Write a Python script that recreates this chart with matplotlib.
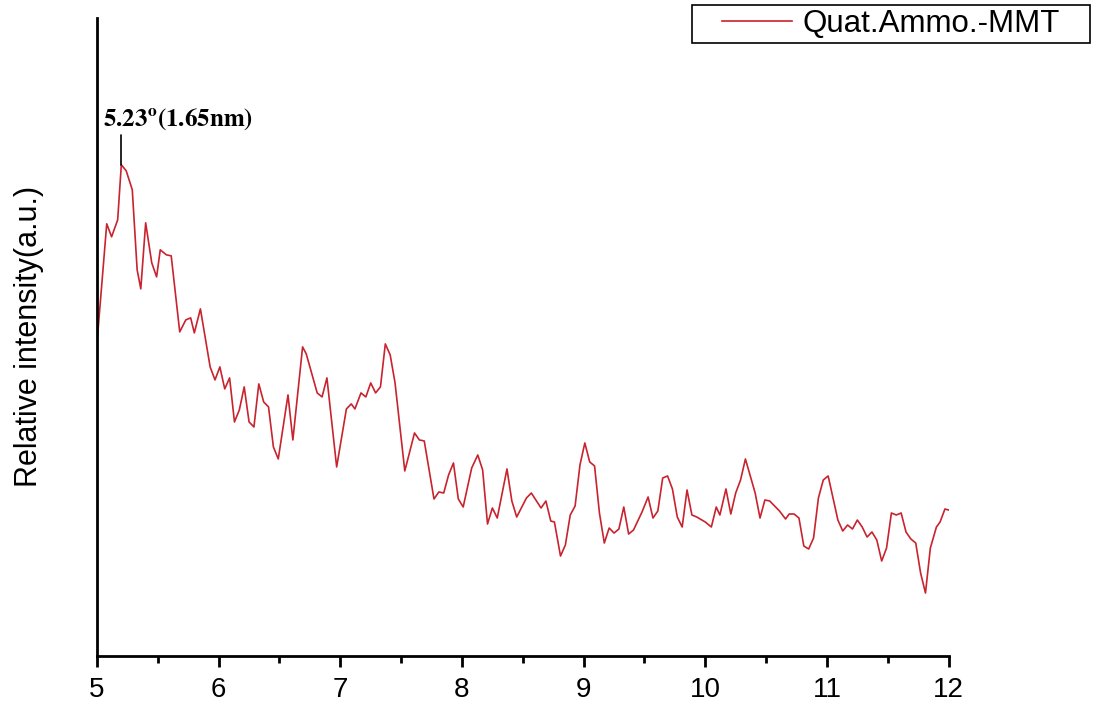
import matplotlib.pyplot as plt
from matplotlib.patches import Rectangle

# XRD pattern of quaternary-ammonium modified MMT
two_theta = [5.00, 5.08, 5.12, 5.17, 5.20, 5.24, 5.29, 5.33, 5.36, 5.40,
             5.45, 5.49, 5.52, 5.57, 5.61, 5.68, 5.73, 5.77, 5.80, 5.85,
             5.93, 5.97, 6.01, 6.05, 6.09, 6.13, 6.17, 6.21, 6.25, 6.29,
             6.33, 6.37, 6.41, 6.45, 6.49, 6.57, 6.61, 6.69, 6.72, 6.81,
             6.85, 6.89, 6.97, 7.05, 7.09, 7.12, 7.17, 7.21, 7.25, 7.29,
             7.33, 7.37, 7.41, 7.45, 7.53, 7.61, 7.65, 7.69, 7.77, 7.81,
             7.85, 7.89, 7.93, 7.97, 8.01, 8.08, 8.13, 8.17, 8.21, 8.25,
             8.29, 8.37, 8.41, 8.45, 8.53, 8.57, 8.65, 8.69, 8.73, 8.76,
             8.81, 8.85, 8.89, 8.93, 8.97, 9.01, 9.05, 9.09, 9.13, 9.17,
             9.21, 9.25, 9.29, 9.33, 9.37, 9.41, 9.48, 9.53, 9.57, 9.61,
             9.65, 9.69, 9.73, 9.77, 9.81, 9.85, 9.89, 9.93, 10.00, 10.05,
             10.09, 10.12, 10.17, 10.21, 10.25, 10.29, 10.33, 10.41, 10.45, 10.49,
             10.53, 10.57, 10.61, 10.66, 10.69, 10.73, 10.77, 10.81, 10.85, 10.89,
             10.93, 10.97, 11.01, 11.09, 11.13, 11.17, 11.21, 11.25, 11.29, 11.33,
             11.37, 11.41, 11.45, 11.49, 11.53, 11.57, 11.61, 11.65, 11.69, 11.73,
             11.77, 11.81, 11.85, 11.90, 11.93, 11.97, 12.00]
intensity = [313, 432, 419, 436, 491, 485, 466, 386, 367, 433,
             393, 379, 406, 401, 400, 324, 336, 338, 323, 347,
             289, 276, 289, 267, 278, 234, 246, 269, 234, 229,
             272, 254, 249, 209, 197, 261, 216, 309, 302, 263,
             259, 278, 189, 247, 252, 247, 263, 259, 273, 263,
             269, 312, 301, 273, 185, 223, 216, 215, 157, 164,
             163, 181, 193, 157, 149, 188, 201, 186, 132, 148,
             138, 187, 155, 139, 158, 163, 148, 155, 135, 134,
             100, 111, 141, 150, 191, 213, 194, 190, 143, 113,
             128, 123, 127, 149, 122, 126, 144, 159, 138, 145,
             178, 180, 167, 139, 129, 166, 141, 139, 134, 129,
             149, 141, 167, 142, 163, 176, 197, 163, 138, 156,
             155, 150, 145, 137, 142, 142, 138, 110, 107, 118,
             158, 176, 180, 136, 125, 131, 127, 136, 129, 119,
             124, 116, 95, 108, 143, 141, 143, 124, 117, 113,
             83, 63, 108, 129, 134, 147, 146]

x_ticks = [5, 6, 7, 8, 9, 10, 11, 12]
series_name = 'Quat.Ammo.-MMT'
peak_label = r'$\mathbf{5.23^{o}(1.65nm)}$'

plt.rcParams['mathtext.fontset'] = 'stix'
sans = ['Liberation Sans', 'DejaVu Sans']

fig = plt.figure(figsize=(10.96, 7.07), dpi=100)
ax = fig.add_axes([0.0885, 0.072, 0.777, 0.903])

line, = ax.plot(two_theta, intensity, color='#c8232e', lw=1.2, label=series_name)

ax.set_xlim(5, 12)
ax.set_ylim(0, 638)
ax.set_xticks(x_ticks)
ax.set_xticks([5.5, 6.5, 7.5, 8.5, 9.5, 10.5, 11.5], minor=True)
ax.set_yticks([])
for lab in ax.get_xticklabels():
    lab.set_family(sans)
    lab.set_fontsize(20)
ax.tick_params(axis='x', which='major', direction='out', length=8, width=2, pad=7)
ax.tick_params(axis='x', which='minor', direction='out', length=5, width=2)

for side in ['top', 'right']:
    ax.spines[side].set_visible(False)
for side in ['left', 'bottom']:
    ax.spines[side].set_linewidth(2)

ax.set_ylabel('Relative intensity(a.u.)', fontsize=22, family=sans, labelpad=38)

# peak marker
i_peak = intensity.index(max(intensity))
ax.annotate(peak_label, xy=(two_theta[i_peak], intensity[i_peak]),
            xytext=(5.05, 524), fontsize=18, ha='left', va='bottom',
            arrowprops=dict(arrowstyle='-', color='black', lw=1.2,
                            shrinkA=0, shrinkB=0,
                            connectionstyle='angle,angleA=0,angleB=90'))

# legend with a wide square box, like the original
fig.legend(handles=[line], loc='center right', bbox_to_anchor=(0.967, 0.966),
           borderaxespad=0, borderpad=0, frameon=False, handlelength=2.25,
           handletextpad=0.32, prop={'family': sans, 'size': 22.5})
fig.patches.append(Rectangle((692 / 1096, 1 - 43 / 707), 398 / 1096, 38 / 707,
                             transform=fig.transFigure, fill=False,
                             edgecolor='black', lw=1.2))

fig.savefig('out.png', dpi=100)
